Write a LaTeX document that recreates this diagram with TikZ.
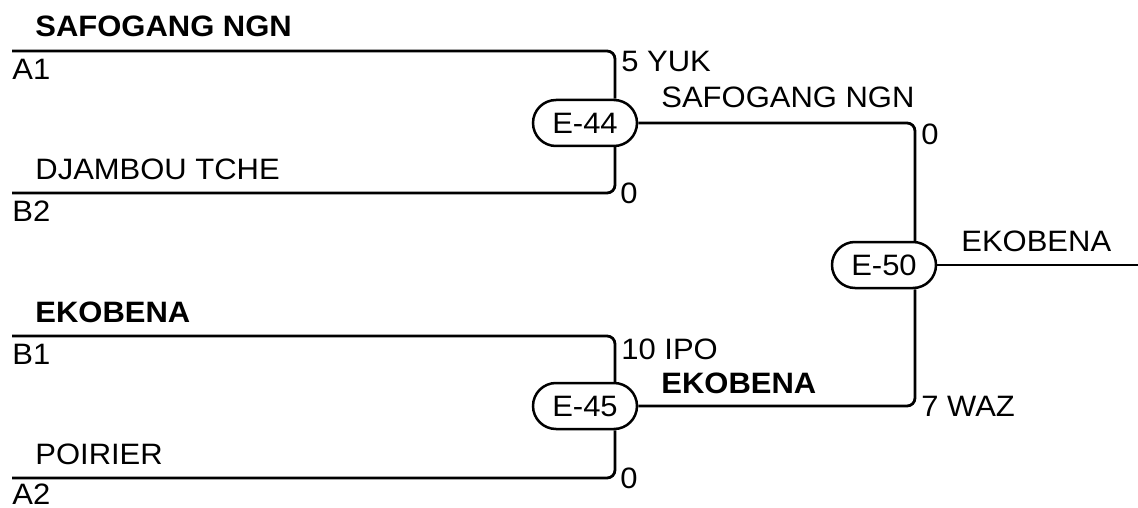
\documentclass[tikz,border=0pt]{standalone}
\usepackage{fontspec}
\setmainfont{Liberation Sans}[FakeStretch=1.05]
\usetikzlibrary{shapes.misc}
\tikzset{inner sep=0pt}

\begin{document}
\fontsize{29.5}{32}\selectfont
\begin{tikzpicture}[x=1pt,y=-1pt,line width=2.8pt,rounded corners=8pt]
  \tikzstyle{match}=[draw,rounded rectangle,sharp corners,line width=2.5pt,
                     minimum width=104pt,minimum height=46pt]
  \tikzstyle{pname}=[anchor=base west]
  \tikzstyle{slot}=[anchor=north west]
  \useasboundingbox (0,0) rectangle (1138,508);

  % entry lines
  \coordinate (a1) at (12,51);
  \coordinate (b2) at (12,193);
  \coordinate (b1) at (12,336);
  \coordinate (a2) at (12,478);
  \coordinate (out) at (1138,265);

  \node[match]         (e44) at (585,123)      {E-44};
  \node[match]         (e45) at (585,406)      {E-45};
  \node[match]         (e50) at (884,265)      {E-50};

  \draw (a1) -| ([xshift=30pt]e44.north);
  \draw (b2) -| ([xshift=30pt]e44.south);
  \draw (b1) -| ([xshift=30pt]e45.north);
  \draw (a2) -| ([xshift=30pt]e45.south);
  \draw (e44.east) -| ([xshift=31pt]e50.north);
  \draw (e45.east) -| ([xshift=31pt]e50.south);
  \draw (e50.east) -- (out);

  % players
  \node[pname,font=\bfseries] (p1) at (34,37)   {SAFOGANG NGN};
  \node[pname]                (p2) at (34,179)  {DJAMBOU TCHE};
  \node[pname,font=\bfseries] (p3) at (34,322)  {EKOBENA};
  \node[pname]                (p4) at (34,464)  {POIRIER};
  \node[slot]                 (s1) at (11,58)   {A1};
  \node[slot]                 (s2) at (11,200)  {B2};
  \node[slot]                 (s3) at (11,343)  {B1};
  \node[slot]                 (s4) at (11,482)  {A2};

  % scores
  \node[slot]                 (r1) at (620,50)  {5 YUK};
  \node[anchor=west]          (r2) at (619,193) {0};
  \node[slot]                 (r3) at (620,337) {10 IPO};
  \node[anchor=west]          (r4) at (619,478) {0};
  \node[slot]                 (r5) at (920,123) {0};
  \node[anchor=west]          (r6) at (920,406) {7 WAZ};

  % winners
  \node[pname]                (w1) at (660,108) {SAFOGANG NGN};
  \node[pname,font=\bfseries] (w2) at (660,393) {EKOBENA};
  \node[pname]                (w3) at (960,251) {EKOBENA};
\end{tikzpicture}
\end{document}
